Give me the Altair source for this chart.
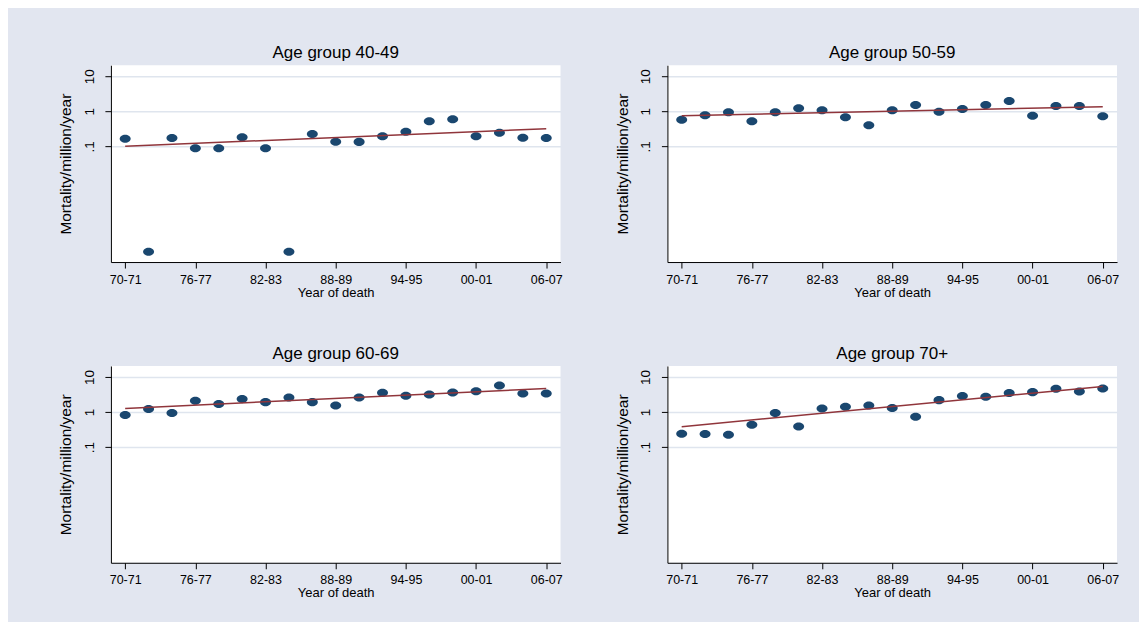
import altair as alt
import pandas as pd

periods = ['70-71', '72-73', '74-75', '76-77', '78-79', '80-81', '82-83', '84-85',
           '86-87', '88-89', '90-91', '92-93', '94-95', '96-97', '98-99', '00-01',
           '02-03', '04-05', '06-07']
x_tick_labels = ['70-71', '76-77', '82-83', '88-89', '94-95', '00-01', '06-07']
group_titles = ['Age group 40-49', 'Age group 50-59', 'Age group 60-69', 'Age group 70+']

rate_40_49 = [0.167, 0.0001, 0.174, 0.089, 0.089, 0.182, 0.089, 0.0001, 0.227, 0.137,
              0.135, 0.195, 0.264, 0.52, 0.593, 0.195, 0.247, 0.178, 0.174]
rate_50_59 = [0.58, 0.77, 0.94, 0.52, 0.94, 1.22, 1.07, 0.675, 0.40, 1.07,
              1.51, 0.98, 1.16, 1.51, 1.97, 0.75, 1.42, 1.42, 0.72]
rate_60_69 = [0.82, 1.22, 0.94, 2.1, 1.69, 2.34, 1.92, 2.61, 1.92, 1.55,
              2.61, 3.55, 2.91, 3.18, 3.62, 3.95, 5.73, 3.4, 3.4]
rate_70_plus = [0.242, 0.237, 0.227, 0.436, 0.94, 0.39, 1.27, 1.42, 1.55, 1.3,
                0.74, 2.19, 2.85, 2.73, 3.47, 3.7, 4.61, 3.87, 4.71]
rates = [rate_40_49, rate_50_59, rate_60_69, rate_70_plus]

fit_start = [0.101, 0.75, 1.27, 0.383]
fit_end = [0.321, 1.36, 4.71, 5.37]

y_ticks = [0.1, 1, 10]
y_tick_labels = ['.1', '1', '10']
y_domain = [5.1e-5, 20.6]

FONT = 'Liberation Sans'
NAVY = '#1a476f'
RED = '#90353b'
BG = '#e2e6f0'
GRID = '#dfe5ee'
W, H = 450, 197

label_map = '{' + ','.join(f"'{v}':'{l}'" for v, l in zip(y_ticks, y_tick_labels)) + '}'
ellipse = 'M -1 0 A 1 0.73 0 1 1 1 0 A 1 0.73 0 1 1 -1 0 Z'


def panel(i):
    pts = pd.DataFrame({'period': periods, 'rate': rates[i]})
    fit = pd.DataFrame({'period': [periods[0], periods[-1]],
                        'rate': [fit_start[i], fit_end[i]]})
    x = alt.X('period:O', sort=periods,
              scale=alt.Scale(type='point', domain=periods, padding=0.61),
              axis=alt.Axis(values=x_tick_labels, title='Year of death', labelAngle=0,
                            labelFontSize=12.5, labelPadding=5, tickSize=6,
                            titleFontSize=13, titleY=30, titleBaseline='middle',
                            grid=False, domainColor='black', tickColor='black'))
    y = alt.Y('rate:Q',
              scale=alt.Scale(type='log', domain=y_domain, nice=False),
              axis=alt.Axis(values=y_ticks, title='Mortality/million/year',
                            labelExpr=f"{label_map}[''+datum.value]",
                            labelAngle=270, labelAlign='center', labelBaseline='middle',
                            labelFontSize=13.5, labelPadding=15.5, tickSize=6,
                            titleFontSize=15.5, titleAngle=270, titleX=-45, titleY=H / 2,
                            titleAlign='center', titleBaseline='middle',
                            grid=True, gridColor=GRID, gridWidth=1.5,
                            domainColor='black', tickColor='black'))
    points = alt.Chart(pts).mark_point(shape=ellipse, filled=True, size=121,
                                       color=NAVY, opacity=1).encode(x=x, y=y)
    line = alt.Chart(fit).mark_line(color=RED, strokeWidth=1.5).encode(x=x, y=y)
    return alt.layer(points, line).properties(
        width=W, height=H,
        title=alt.TitleParams(group_titles[i], fontSize=17, font=FONT,
                              fontWeight='normal', color='black', offset=3,
                              anchor='middle'))


chart = alt.concat(panel(0), panel(1), panel(2), panel(3), columns=2,
                   spacing=alt.RowColnumber(row=104, column=107),
                   bounds='flush').properties(
    background=BG,
    padding={'left': 51, 'top': 36, 'right': 20, 'bottom': 22},
).configure_view(fill='white', strokeWidth=0).configure_axis(
    labelFont=FONT, titleFont=FONT, labelColor='black', titleColor='black',
    titleFontWeight='normal', domainWidth=1, tickWidth=1
)

chart.save('out.html', embed_options={'renderer': 'svg', 'actions': False})
